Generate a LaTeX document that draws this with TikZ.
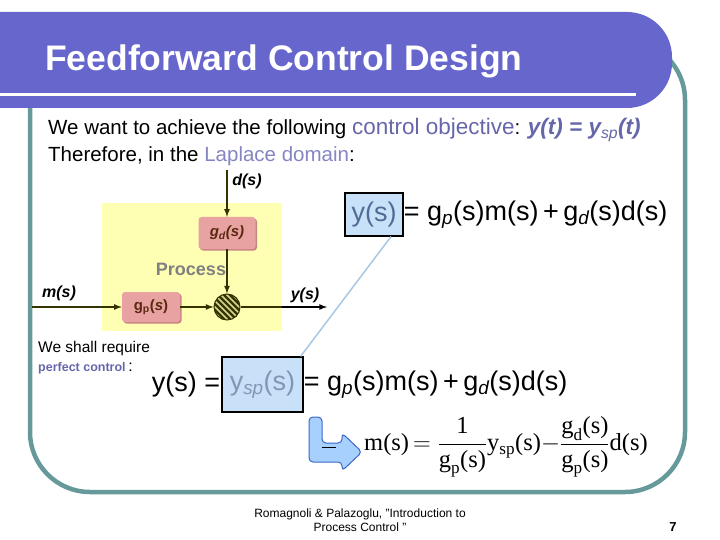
\RequirePackage{fix-cm}
\documentclass[tikz,border=0pt]{standalone}
\usepackage{amsmath}
\usepackage{fontspec}
\setmainfont{Liberation Sans}
\newfontfamily\timesfont{Liberation Serif}
\usetikzlibrary{positioning, shadows}

\begin{document}
\begin{tikzpicture}[x=1pt, y=-1pt, >=latex,
    pinkblock/.style={rounded corners=3pt, fill=pinkFill,
        drop shadow={shadow xshift=1.5pt, shadow yshift=-1.5pt, fill=pinkShade, opacity=1},
        inner sep=0pt, font=\fontsize{15}{18}\selectfont\bfseries, text=brownText},
    signal/.style={draw=oliveLine, line width=1.6pt},
    eqbox/.style={draw=black, line width=1.2pt, fill=boxBlue, inner sep=0pt},
    eqfont/.style={font=\fontsize{27}{31}\selectfont}]

    % Define colours
    \definecolor{titlePurple}{HTML}{6666CC}
    \definecolor{frameTeal}{HTML}{669999}
    \definecolor{purpleText}{HTML}{6666AA}
    \definecolor{lightPurple}{HTML}{8585C2}
    \definecolor{processYellow}{HTML}{FFFFB3}
    \definecolor{pinkFill}{HTML}{E8A2A2}
    \definecolor{pinkShade}{HTML}{C98585}
    \definecolor{brownText}{HTML}{5A2A10}
    \definecolor{oliveLine}{HTML}{333300}
    \definecolor{boxBlue}{HTML}{C8E0F8}
    \definecolor{slateText}{HTML}{4F6C94}
    \definecolor{greyBlueText}{HTML}{8098B4}
    \definecolor{linkBlue}{HTML}{A6C8E6}
    \definecolor{arrowBlue}{HTML}{A8D0FF}
    \definecolor{arrowEdge}{HTML}{3A68C8}

    \useasboundingbox (0,0) rectangle (720,540);

    % Draw frame and title bar
    \draw[frameTeal, line width=4.5pt, rounded corners=60pt] (30,40) rectangle (685,492);
    \fill[titlePurple, rounded corners=45pt] (-60,12) rectangle (672,108);
    \fill[white] (0,93.5) rectangle (636,96.5);
    \node[anchor=base west, inner sep=0pt, text=white, font=\fontsize{35.5}{40}\selectfont\bfseries] (title) at (45,71) {Feedforward Control Design};

    % Objective text
    \node[anchor=base west, inner sep=0pt, font=\fontsize{20.5}{23}\selectfont] (objective) at (48,135)
        {We want to achieve the following {\fontsize{22.5}{25}\selectfont\color{purpleText}control objective}: {\fontsize{22.5}{25}\selectfont\color{purpleText}\bfseries\itshape y(t) = y\textsubscript{\mdseries sp}(t)}};
    \node[anchor=base west, inner sep=0pt, font=\fontsize{20.5}{23}\selectfont] (laplace) at (48,162)
        {Therefore, in the \textcolor{lightPurple}{Laplace domain}:};

    % Process block diagram
    \node[fill=processYellow, minimum width=180pt, minimum height=128pt, anchor=north west] (process) at (102,203) {};
    \node[text=gray, font=\fontsize{18}{20}\selectfont\bfseries] (processLabel) at (191,269) {Process};
    \node[pinkblock, minimum width=57pt, minimum height=32pt] (gd) at (227,233) {\itshape g\textsubscript{d}(s)};
    \node[pinkblock, minimum width=58pt, minimum height=30pt] (gp) at (151,307) {g\textsubscript{p}(\textit{s})};
    \node[circle, draw=oliveLine, line width=1pt, fill=oliveLine, minimum size=26pt, inner sep=0pt,
        path picture={\foreach \k in {-30,-24,...,30}
            \draw[processYellow!80!oliveLine, line width=1.6pt] ([shift={(\k pt-20pt,20pt)}]path picture bounding box.center) -- ++(40pt,-40pt);}] (sum) at (227,307) {};

    \coordinate (dIn) at (227,170);
    \coordinate (mIn) at (32,307);
    \coordinate (yOut) at (327,307);
    \node[font=\fontsize{16}{18}\selectfont\bfseries\itshape] (dLabel) at (247,181) {d(s)};
    \node[font=\fontsize{16}{18}\selectfont\bfseries\itshape] (mLabel) at (59,293) {m(s)};
    \node[font=\fontsize{16}{18}\selectfont\bfseries\itshape] (yLabel) at (305,295) {y(s)};

    \draw[signal, ->] (dIn) -- (gd);
    \draw[signal, ->] (gd) -- (sum);
    \draw[signal, ->] (mIn) -- (gp);
    \draw[signal, ->] (gp) -- (sum);
    \draw[signal] (sum) -- (process.east |- sum);
    \draw[line width=1.6pt, ->] (process.east |- sum) -- (yOut);

    % First equation
    \node[eqbox, minimum width=58pt, minimum height=43pt, eqfont, text=slateText] (yBox) at (374,214.5) {y(s)};
    \node[anchor=west, inner sep=0pt, eqfont] (eqOne) at (yBox.east)
        {= g\textsubscript{\itshape p}(s)m(s)\,+\,g\textsubscript{\itshape d}(s)d(s)};

    % Perfect control
    \node[anchor=base west, inner sep=0pt, font=\fontsize{15.5}{18}\selectfont] (require) at (38,352) {We shall require};
    \node[anchor=base west, inner sep=0pt] (perfect) at (38,371)
        {{\fontsize{12.5}{14}\selectfont\bfseries\color{purpleText}perfect control} {\fontsize{16}{18}\selectfont :}};

    % Second equation
    \node[eqbox, minimum width=81pt, minimum height=55pt, eqfont, text=greyBlueText] (ysBox) at (262.5,384.5) {y\textsubscript{\itshape sp}(s)};
    \node[anchor=east, inner sep=0pt, eqfont] (eqTwoLeft) at ([xshift=-1pt]ysBox.west) {y(s) =};
    \node[anchor=west, inner sep=0pt, eqfont] (eqTwoRight) at (ysBox.east)
        {= g\textsubscript{\itshape p}(s)m(s)\,+\,g\textsubscript{\itshape d}(s)d(s)};
    \draw[linkBlue, line width=1.5pt] ([xshift=17pt]yBox.south) -- ([xshift=-3pt]ysBox.north east);

    % Bent arrow
    \draw[arrowEdge, fill=arrowBlue, line width=1pt, rounded corners=4pt]
        (309,417) -- (309,462) -- (342,462) -- (342,471) -- (362,452) -- (342,433) -- (342,443) -- (322,443) -- (322,417) -- cycle;
    \draw[black, line width=1pt] (322,447) -- (336,447);

    % Result
    \node[anchor=west, inner sep=0pt, font=\timesfont\fontsize{24.5}{28}\selectfont] (mEq) at (364,447)
        {m(s)$\,=\dfrac{\text{1}}{\text{g}_{\text{p}}\text{(s)}}$y\textsubscript{sp}(s)$-\dfrac{\text{g}_{\text{d}}\text{(s)}}{\text{g}_{\text{p}}\text{(s)}}$d(s)};

    % Footer
    \node[align=center, font=\fontsize{12}{13.5}\selectfont] (source) at (360,520)
        {Romagnoli \& Palazoglu, "Introduction to\\Process Control "};
    \node[font=\fontsize{13}{15}\selectfont\bfseries] (page) at (673,527) {7};

\end{tikzpicture}
\end{document}
